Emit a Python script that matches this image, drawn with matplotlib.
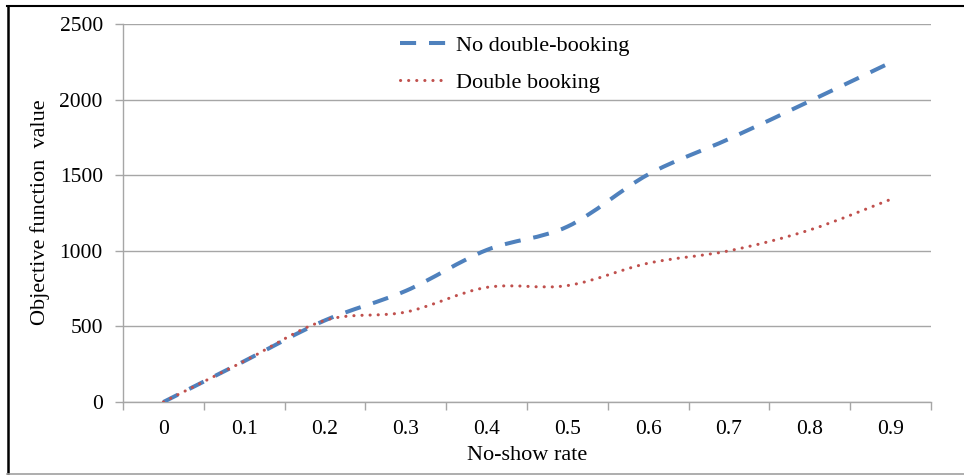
import matplotlib
matplotlib.use("Agg")
import matplotlib.pyplot as plt
from matplotlib.path import Path
from matplotlib.patches import PathPatch
from matplotlib.lines import Line2D
import numpy as np

plt.rcParams['font.family'] = ['Liberation Serif', 'DejaVu Serif']

categories = ["0", "0.1", "0.2", "0.3", "0.4", "0.5", "0.6", "0.7", "0.8", "0.9"]
no_double = [0, 270, 540, 735, 1005, 1160, 1505, 1740, 1990, 2245]
double_bk = [0, 270, 540, 595, 758, 770, 918, 1000, 1138, 1340]
y_ticks = [0, 500, 1000, 1500, 2000, 2500]

BLUE = "#4F81BD"
RED = "#C0504D"
GRID = "#A6A6A6"
FS = 15.5
FS_LABEL = 16

W, H = 964, 475
fig = plt.figure(figsize=(W / 100, H / 100), dpi=100)
ax = fig.add_axes([123 / W, 1 - 402 / H, (931 - 123) / W, (402 - 24) / H])


def smooth_path(xs, ys):
    """Cubic Bezier path through the points (Catmull-Rom style tangents)."""
    pts = np.column_stack([xs, ys]).astype(float)
    n = len(pts)
    verts = [pts[0]]
    codes = [Path.MOVETO]
    for i in range(n - 1):
        p0 = pts[i - 1] if i > 0 else pts[i]
        p1 = pts[i]
        p2 = pts[i + 1]
        p3 = pts[i + 2] if i + 2 < n else pts[i + 1]
        c1 = p1 + (p2 - p0) / 6.0
        c2 = p2 - (p3 - p1) / 6.0
        verts += [c1, c2, p2]
        codes += [Path.CURVE4] * 3
    return Path(verts, codes)


x = np.arange(len(categories))

BLUE_LW, BLUE_DASH = 2.9, (0, (4, 3.2))
RED_LW, RED_DASH = 2.2, (0, (0.05, 2.6))

ax.add_patch(PathPatch(smooth_path(x, no_double), fill=False, zorder=3,
                       edgecolor=BLUE, lw=BLUE_LW, linestyle=BLUE_DASH,
                       capstyle="butt", joinstyle="round"))
ax.add_patch(PathPatch(smooth_path(x, double_bk), fill=False, zorder=4,
                       edgecolor=RED, lw=RED_LW, linestyle=RED_DASH,
                       capstyle="round", joinstyle="round"))

ax.set_xlim(-0.5, len(categories) - 0.5)
ax.set_ylim(0, 2500)

ax.set_yticks(y_ticks)
ax.set_yticklabels([str(v) for v in y_ticks], fontsize=FS)
ax.set_xticks(x)
ax.set_xticklabels(categories, fontsize=FS)
ax.set_xticks(np.arange(len(categories) + 1) - 0.5, minor=True)

ax.tick_params(axis="x", which="major", length=0, pad=13)
ax.tick_params(axis="x", which="minor", length=5.5, width=1, color=GRID, direction="out")
ax.tick_params(axis="y", which="major", length=5.5, width=1, color=GRID, pad=9)

ax.yaxis.grid(True, color=GRID, lw=1)
ax.set_axisbelow(True)
for side in ("top", "right"):
    ax.spines[side].set_visible(False)
for side in ("left", "bottom"):
    ax.spines[side].set_color(GRID)
    ax.spines[side].set_linewidth(1)

fig.text(527 / W, 1 - 456 / H, "No-show rate", fontsize=FS_LABEL, ha="center", va="center")
fig.text(40 / W, 1 - 212 / H, "Objective function  value", fontsize=FS_LABEL,
         ha="center", va="center", rotation=90)

handles = [Line2D([], [], color=BLUE, lw=BLUE_LW, linestyle=BLUE_DASH, dash_capstyle="butt"),
           Line2D([], [], color=RED, lw=RED_LW, linestyle=RED_DASH, dash_capstyle="round")]
fig.legend(handles, ["No double-booking", "Double booking"],
           loc="upper left", bbox_to_anchor=(400 / W, 1 - 35 / H),
           frameon=False, fontsize=FS_LABEL, handlelength=2.1, handletextpad=0.4,
           labelspacing=0.75, borderaxespad=0, borderpad=0)

# outer frame
fig.add_artist(Line2D([7.5 / W, 7.5 / W], [1 - 6 / H, 1 - 474 / H], color="black", lw=1.8,
                      transform=fig.transFigure))
fig.add_artist(Line2D([7 / W, 1.0], [1 - 6 / H, 1 - 6 / H], color="black", lw=1.5,
                      transform=fig.transFigure))
fig.add_artist(Line2D([7 / W, 1.0], [1 - 474 / H, 1 - 474 / H], color="#A0A0A0", lw=1.2,
                      transform=fig.transFigure))

fig.savefig("out.png", dpi=100)
